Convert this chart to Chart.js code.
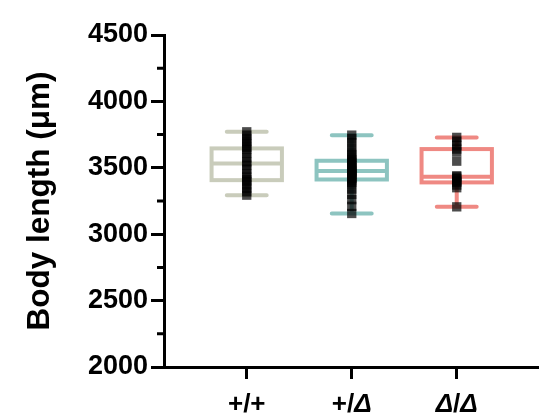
<!DOCTYPE html>
<html>
<head>
<meta charset="utf-8">
<script src="https://cdn.jsdelivr.net/npm/chart.js@4.4.1/dist/chart.umd.min.js"></script>
<style>
  html, body { margin: 0; padding: 0; background: #fff; }
  canvas { display: block; }
</style>
</head>
<body>
<canvas id="chart" width="556" height="416"></canvas>
<script>
// Genotype groups on the x axis
const genotypes = ['+/+', '+/Δ', 'Δ/Δ'];
const boxColors = ['#c9ccbb', '#8dc4c0', '#ef8983'];

// Five-number summaries per group: min, q1, median, q3, max (µm)
const wtSummary  = [3294, 3407, 3533, 3646, 3771];
const hetSummary = [3156, 3412, 3475, 3553, 3746];
const homSummary = [3206, 3390, 3432, 3641, 3729];

// Individual body lengths (µm)
const wtLengths = [3771, 3745, 3720, 3700, 3680, 3655, 3640, 3610, 3575, 3545,
                   3520, 3490, 3455, 3430, 3410, 3395, 3370, 3345, 3320, 3294];
const hetLengths = [3746, 3720, 3690, 3650, 3620, 3600, 3580, 3560, 3550, 3540,
                    3530, 3515, 3500, 3490, 3480, 3475, 3470, 3460, 3450, 3440,
                    3430, 3420, 3415, 3405, 3390, 3370, 3340, 3300, 3260, 3210, 3156];
const homLengths = [3729, 3700, 3670, 3641, 3620, 3550, 3440, 3432, 3420, 3400,
                    3390, 3370, 3350, 3206];

// Y axis major ticks
const yTicks = [2000, 2500, 3000, 3500, 4000, 4500];

const summaries = [wtSummary, hetSummary, homSummary];
const groups = [wtLengths, hetLengths, homLengths];

const FONT = '"Liberation Sans", Arial, Helvetica, sans-serif';

// Box, median and whiskers drawn beneath the points
const boxPlot = {
  id: 'boxPlot',
  beforeDatasetsDraw(chart) {
    const { ctx, scales: { x, y } } = chart;
    summaries.forEach((s, i) => {
      const cx = x.getPixelForValue(i + 1);
      const hw = x.getPixelForValue(i + 1 + 0.335) - cx;
      const cw = x.getPixelForValue(i + 1 + 0.19) - cx;
      const [pMin, pQ1, pMed, pQ3, pMax] = s.map(v => y.getPixelForValue(v));
      ctx.save();
      ctx.strokeStyle = boxColors[i];
      ctx.lineWidth = 4;
      // whisker stems
      ctx.lineCap = 'butt';
      ctx.beginPath();
      ctx.moveTo(cx, pQ3); ctx.lineTo(cx, pMax);
      ctx.moveTo(cx, pQ1); ctx.lineTo(cx, pMin);
      ctx.stroke();
      // box
      ctx.lineJoin = 'miter';
      ctx.strokeRect(cx - hw, pQ3, 2 * hw, pQ1 - pQ3);
      // median
      ctx.beginPath();
      ctx.moveTo(cx - hw, pMed); ctx.lineTo(cx + hw, pMed);
      ctx.stroke();
      // caps
      ctx.lineCap = 'round';
      ctx.beginPath();
      ctx.moveTo(cx - cw, pMax); ctx.lineTo(cx + cw, pMax);
      ctx.moveTo(cx - cw, pMin); ctx.lineTo(cx + cw, pMin);
      ctx.stroke();
      ctx.restore();
    });
  }
};

// Minor y ticks and genotype labels with italic Δ
const axisExtras = {
  id: 'axisExtras',
  afterDraw(chart) {
    const { ctx, scales: { x, y }, chartArea } = chart;
    ctx.save();
    ctx.strokeStyle = '#000';
    ctx.lineWidth = 3;
    ctx.beginPath();
    for (let k = 0; k < yTicks.length - 1; k++) {
      const py = y.getPixelForValue((yTicks[k] + yTicks[k + 1]) / 2);
      ctx.moveTo(chartArea.left - 7, py);
      ctx.lineTo(chartArea.left, py);
    }
    ctx.stroke();

    ctx.fillStyle = '#000';
    ctx.textBaseline = 'alphabetic';
    const upright = 'bold 26px ' + FONT;
    const slanted = 'italic bold 26px ' + FONT;
    genotypes.forEach((label, i) => {
      const parts = [...label].map(ch => ({ ch, font: ch === 'Δ' ? slanted : upright }));
      let total = 0;
      parts.forEach(p => { ctx.font = p.font; p.w = ctx.measureText(p.ch).width; total += p.w; });
      let px = x.getPixelForValue(i + 1) - total / 2;
      parts.forEach(p => {
        ctx.font = p.font;
        ctx.fillText(p.ch, px, 412);
        px += p.w;
      });
    });
    ctx.restore();
  }
};

const datasets = groups.map((vals, i) => ({
  label: genotypes[i],
  data: vals.map(v => ({ x: i + 1, y: v })),
  pointStyle: 'rect',
  pointRadius: 6.6,
  pointBorderWidth: 0,
  pointBackgroundColor: 'rgba(0,0,0,0.7)',
  pointHoverRadius: 6.6
}));

new Chart(document.getElementById('chart'), {
  type: 'scatter',
  data: { datasets },
  options: {
    responsive: false,
    animation: false,
    devicePixelRatio: 1,
    events: [],
    layout: { padding: { top: 35, right: 18, bottom: 0, left: 0 } },
    plugins: { legend: { display: false }, tooltip: { enabled: false } },
    scales: {
      x: {
        type: 'linear',
        position: 'bottom',
        min: 0.212,
        max: 3.774,
        afterBuildTicks: s => { s.ticks = genotypes.map((g, i) => ({ value: i + 1 })); },
        afterFit: s => { s.height = 49; },
        ticks: { display: false },
        grid: { display: true, drawOnChartArea: false, tickLength: 12, tickWidth: 3, tickColor: '#000', color: '#000' },
        border: { display: true, color: '#000', width: 3 }
      },
      y: {
        min: yTicks[0],
        max: yTicks[yTicks.length - 1],
        afterBuildTicks: s => { s.ticks = yTicks.map(v => ({ value: v })); },
        afterFit: s => { s.width = 164; },
        ticks: {
          color: '#000',
          padding: 3,
          callback: v => String(v),
          font: { family: FONT, size: 27, weight: 'bold' }
        },
        grid: { display: true, drawOnChartArea: false, tickLength: 13, tickWidth: 3, tickColor: '#000', color: '#000' },
        border: { display: true, color: '#000', width: 3 },
        title: {
          display: true,
          text: 'Body length (μm)',
          color: '#000',
          font: { family: FONT, size: 31.5, weight: 'bold' },
          padding: { top: 21, bottom: 0 }
        }
      }
    }
  },
  plugins: [boxPlot, axisExtras]
});
</script>
</body>
</html>
